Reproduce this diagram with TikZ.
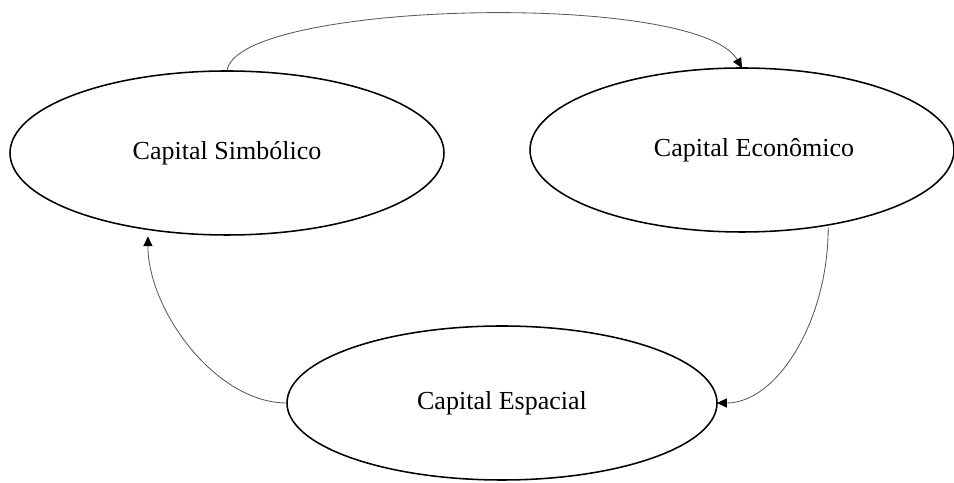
\documentclass[tikz,border=0pt]{standalone}
\usepackage{fontspec}
\setmainfont{Liberation Serif}
\usetikzlibrary{shapes.geometric,arrows.meta}

\begin{document}
\begin{tikzpicture}[
    capital/.style={ellipse, draw, line width=1.1pt, inner sep=0pt, outer sep=0pt,
        font=\fontsize{18.5}{22}\selectfont},
    seta/.style={draw=black!65, line width=0.6pt,
        -{Triangle[length=7pt,width=6.5pt,color=black]}}
]
   	\useasboundingbox (0,0) rectangle (23.85,12.075);

	%Elipse superior esquerda
   	\node[capital, minimum width=10.85cm, minimum height=4.1cm] (sim) at (5.675,8.25) {Capital Simbólico};

	%Elipse superior direita
   	\node[capital, minimum width=10.6cm, minimum height=4.1cm] (eco) at (18.55,8.325) {\hspace*{0.6cm}Capital Econômico};

	%Elipse inferior
   	\node[capital, minimum width=10.75cm, minimum height=3.85cm] (spa) at (12.55,2.0) {Capital Espacial};

	%Setas (o ciclo entre os tres capitais)
   	\draw[seta] (sim.north) .. controls +(0.2,1.75) and +(-1.125,1.95) .. (eco.north);
   	\draw[seta, shorten <=2pt] (eco.-41) .. controls +(0,-2.4) and +(1.5,0) .. (spa.east);
   	\draw[seta, shorten >=5pt] (spa.west) .. controls +(-1.8,0) and +(0,-2.0) .. (sim.-136);
\end{tikzpicture}
\end{document}
